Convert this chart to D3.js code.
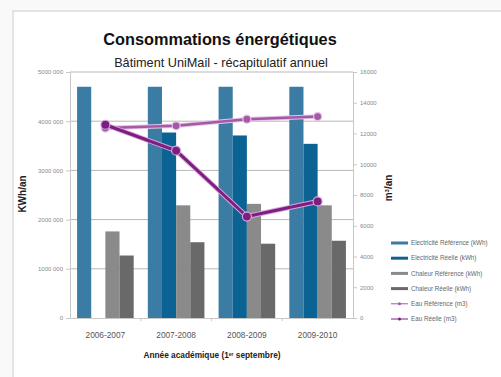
<!DOCTYPE html>
<html>
<head>
<meta charset="utf-8">
<script src="https://cdn.jsdelivr.net/npm/d3@7"></script>
<style>
  body { margin: 0; background: #f9f9f9; }
  svg { display: block; font-family: "Liberation Sans", Arial, sans-serif; }
</style>
</head>
<body>
<svg id="chart" width="501" height="377"></svg>
<script>
// chart data
var years = ["2006-2007", "2007-2008", "2008-2009", "2009-2010"];
var elecRef   = [4700000, 4700000, 4700000, 4700000];
var elecReel  = [null, 3770000, 3710000, 3540000];
var chalRef   = [1760000, 2290000, 2320000, 2290000];
var chalReel  = [1270000, 1540000, 1510000, 1570000];
var eauRef    = [12350, 12500, 12930, 13100];
var eauReel   = [12570, 10880, 6600, 7580];
var leftTicks  = [0, 1000000, 2000000, 3000000, 4000000, 5000000];
var leftLabels = ["0", "1000 000", "2000 000", "3000 000", "4000 000", "5000 000"];
var rightTicks = [0, 2000, 4000, 6000, 8000, 10000, 12000, 14000, 16000];
var barSeries  = ["Electricité Référence (kWh)", "Electricité Réelle (kWh)", "Chaleur Référence (kWh)", "Chaleur Réelle (kWh)"];
var lineSeries = ["Eau Référence (m3)", "Eau Réelle (m3)"];

var barColors  = ["#3b7ca4", "#0b6393", "#8a8a8a", "#696969"];
var lineColors = ["#a557a8", "#7d1f82"];

var svg = d3.select("#chart");

// frame
svg.append("rect")
    .attr("x", 13).attr("y", 11)
    .attr("width", 520).attr("height", 400)
    .attr("fill", "#fff")
    .attr("stroke", "#dcdcdc")
    .attr("stroke-width", 1.5);

var plot = { left: 70, right: 353, top: 72, bottom: 318 };

var x0 = d3.scaleBand()
    .domain(years)
    .range([plot.left, plot.right]);

var x1 = d3.scaleBand()
    .domain(d3.range(4))
    .range([0, x0.bandwidth()])
    .paddingOuter(0.5);

var yL = d3.scaleLinear().domain([0, 5000000]).range([plot.bottom, plot.top]);
var yR = d3.scaleLinear().domain([0, 16000]).range([plot.bottom, plot.top]);

// gridlines
svg.append("g")
    .selectAll("line")
    .data(leftTicks.slice(1))
    .enter()
    .append("line")
    .attr("x1", plot.left).attr("x2", plot.right)
    .attr("y1", function(d) { return yL(d); })
    .attr("y2", function(d) { return yL(d); })
    .attr("stroke", "#b8b8b8")
    .attr("stroke-width", 1);

// left axis
var axL = svg.append("g")
    .attr("transform", "translate(" + plot.left + ",0)")
    .call(d3.axisLeft(yL).tickValues(leftTicks).tickSize(4).tickPadding(3)
        .tickFormat(function(d, i) { return leftLabels[i]; }));
axL.select(".domain").attr("stroke", "#c8c8c8");
axL.selectAll(".tick line").attr("stroke", "#c8c8c8");
axL.selectAll("text").attr("fill", "#888").style("font-size", "6px").style("font-family", "Liberation Sans, Arial");

// right axis
var axR = svg.append("g")
    .attr("transform", "translate(" + plot.right + ",0)")
    .call(d3.axisRight(yR).tickValues(rightTicks).tickSize(4).tickPadding(3)
        .tickFormat(d3.format("d")));
axR.select(".domain").attr("stroke", "#c8c8c8");
axR.selectAll(".tick line").attr("stroke", "#c8c8c8");
axR.selectAll("text").attr("fill", "#888").style("font-size", "6px").style("font-family", "Liberation Sans, Arial");

// bottom axis
var axB = svg.append("g")
    .attr("transform", "translate(0," + plot.bottom + ")")
    .call(d3.axisBottom(x0).tickSize(0).tickPadding(14));
axB.select(".domain").attr("stroke", "#c8c8c8");
axB.selectAll("text").attr("fill", "#555").style("font-size", "8.3px").style("font-family", "Liberation Sans, Arial");
svg.append("g")
    .selectAll("line")
    .data(years.slice(1))
    .enter()
    .append("line")
    .attr("x1", function(d) { return x0(d); })
    .attr("x2", function(d) { return x0(d); })
    .attr("y1", plot.bottom).attr("y2", plot.bottom + 3)
    .attr("stroke", "#c8c8c8");

// bars
var barData = [elecRef, elecReel, chalRef, chalReel];
barData.forEach(function(vals, s) {
    svg.append("g")
        .selectAll("rect")
        .data(vals.map(function(v, i) { return { year: years[i], v: v }; })
            .filter(function(d) { return d.v != null; }))
        .enter()
        .append("rect")
        .attr("x", function(d) { return x0(d.year) + x1(s); })
        .attr("y", function(d) { return yL(d.v); })
        .attr("width", x1.bandwidth())
        .attr("height", function(d) { return plot.bottom - yL(d.v); })
        .attr("fill", barColors[s]);
});

// water lines
var line = d3.line()
    .x(function(d) { return x0(d.year) + x0.bandwidth() / 2; })
    .y(function(d) { return yR(d.v); });

[eauRef, eauReel].forEach(function(vals, s) {
    var pts = vals.map(function(v, i) { return { year: years[i], v: v }; });
    var g = svg.append("g");
    g.append("path")
        .datum(pts)
        .attr("d", line)
        .attr("fill", "none")
        .attr("stroke", s == 0 ? "#e3c4e4" : "#d9a6da")
        .attr("stroke-width", s == 0 ? 4.5 : 5)
        .attr("stroke-linejoin", "round");
    g.append("path")
        .datum(pts)
        .attr("d", line)
        .attr("fill", "none")
        .attr("stroke", lineColors[s])
        .attr("stroke-width", s == 0 ? 2.5 : 3)
        .attr("stroke-linejoin", "round");
    g.selectAll("circle")
        .data(pts)
        .enter()
        .append("circle")
        .attr("cx", function(d) { return x0(d.year) + x0.bandwidth() / 2; })
        .attr("cy", function(d) { return yR(d.v); })
        .attr("r", s == 0 ? 4 : 4.5)
        .attr("fill", lineColors[s])
        .attr("stroke", s == 0 ? "#e3c4e4" : "#d9a6da")
        .attr("stroke-width", 1.2);
});

// titles
svg.append("text")
    .attr("x", 220).attr("y", 45)
    .attr("text-anchor", "middle")
    .style("font-size", "16.3px").style("font-weight", "bold")
    .attr("fill", "#111")
    .text("Consommations énergétiques");
svg.append("text")
    .attr("x", 221).attr("y", 67)
    .attr("text-anchor", "middle")
    .style("font-size", "12.7px")
    .attr("fill", "#222")
    .text("Bâtiment UniMail - récapitulatif annuel");

// axis titles
svg.append("text")
    .attr("transform", "translate(26,194) rotate(-90)")
    .attr("text-anchor", "middle")
    .style("font-size", "10px").style("font-weight", "bold")
    .attr("fill", "#222")
    .text("KWh/an");

var m3 = svg.append("text")
    .attr("transform", "translate(392,188) rotate(-90)")
    .attr("text-anchor", "middle")
    .style("font-size", "10px").style("font-weight", "bold")
    .attr("fill", "#222");
m3.append("tspan").text("m");
m3.append("tspan").attr("dy", -3).style("font-size", "6px").text("3");
m3.append("tspan").attr("dy", 3).text("/an");

var xt = svg.append("text")
    .attr("x", 212).attr("y", 358)
    .attr("text-anchor", "middle")
    .style("font-size", "8.3px").style("font-weight", "bold")
    .attr("fill", "#222");
xt.append("tspan").text("Année académique (1");
xt.append("tspan").attr("dy", -2.5).style("font-size", "5px").text("er");
xt.append("tspan").attr("dy", 2.5).text(" septembre)");

// legend
var legendItems = barSeries.concat(lineSeries);
var lg = svg.append("g").attr("transform", "translate(391,243)");
legendItems.forEach(function(name, i) {
    var row = lg.append("g").attr("transform", "translate(0," + (i * 15.2) + ")");
    if (i < 4) {
        row.append("line")
            .attr("x1", 0).attr("x2", 17)
            .attr("stroke", barColors[i])
            .attr("stroke-width", 3);
    } else {
        row.append("line")
            .attr("x1", 0).attr("x2", 17)
            .attr("stroke", lineColors[i - 4])
            .attr("stroke-width", 1);
        row.append("circle")
            .attr("cx", 8.5).attr("r", 1.5)
            .attr("fill", lineColors[i - 4]);
    }
    row.append("text")
        .attr("x", 20).attr("y", 2.2)
        .style("font-size", "6.3px")
        .attr("fill", "#666")
        .text(name);
});
</script>
</body>
</html>
